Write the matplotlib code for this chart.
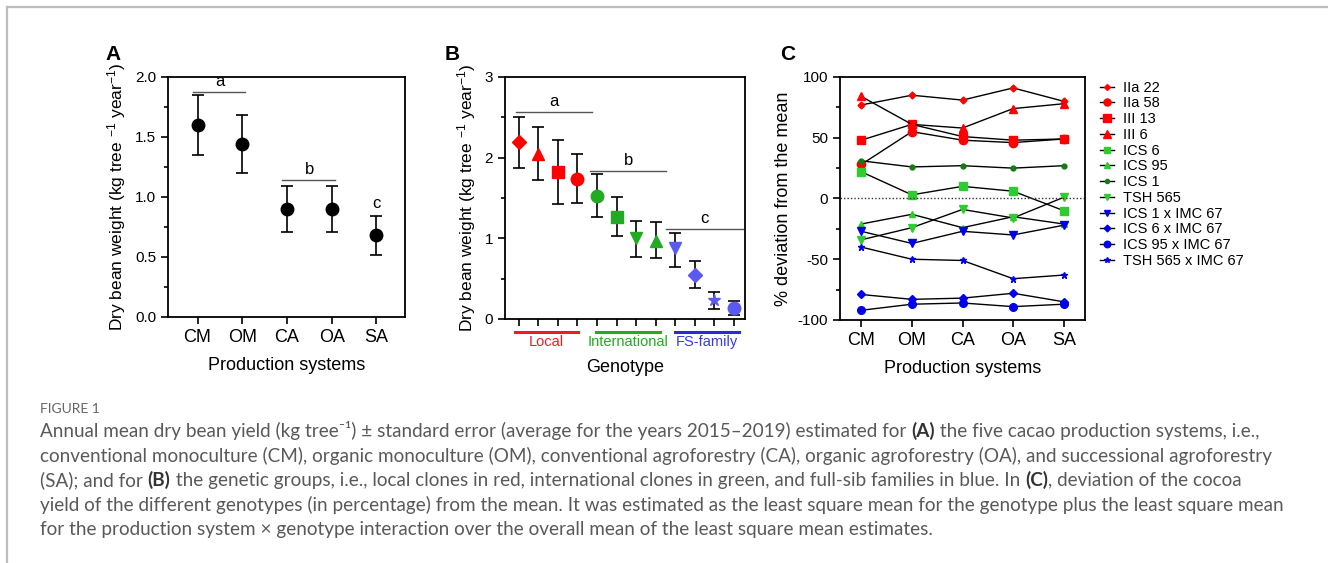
import matplotlib
matplotlib.use("Agg")
import matplotlib.pyplot as plt
import numpy as np
from matplotlib.lines import Line2D
import matplotlib.transforms as mtransforms

plt.rcParams['font.family'] = ['Liberation Sans', 'DejaVu Sans']
plt.rcParams['mathtext.fontset'] = 'custom'
plt.rcParams['mathtext.rm'] = 'Liberation Sans'
plt.rcParams['mathtext.it'] = 'Liberation Sans'
plt.rcParams['axes.unicode_minus'] = False

# Panel A data
systems = ['CM', 'OM', 'CA', 'OA', 'SA']
sys_mean = [1.60, 1.44, 0.90, 0.90, 0.68]
sys_low = [1.35, 1.20, 0.71, 0.71, 0.52]
sys_high = [1.85, 1.68, 1.09, 1.09, 0.84]

# Panel B data
genotypes = ['IIa 22', 'III 6', 'III 13', 'IIa 58', 'ICS 1', 'ICS 6', 'TSH 565', 'ICS 95',
             'ICS 1 x IMC 67', 'ICS 6 x IMC 67', 'TSH 565 x IMC 67', 'ICS 95 x IMC 67']
geno_mean = [2.19, 2.04, 1.82, 1.74, 1.53, 1.27, 1.00, 0.97, 0.88, 0.55, 0.23, 0.14]
geno_low = [1.87, 1.72, 1.42, 1.44, 1.26, 1.03, 0.77, 0.76, 0.65, 0.38, 0.12, 0.05]
geno_high = [2.51, 2.38, 2.22, 2.04, 1.80, 1.51, 1.21, 1.20, 1.07, 0.72, 0.33, 0.22]
groups = ['Local', 'International', 'FS-family']

# Panel C data (% deviation from the mean, per production system)
dev = {
    'IIa 22': [77, 85, 81, 91, 80],
    'IIa 58': [28, 55, 48, 46, 49],
    'III 13': [48, 61, 51, 48, 49],
    'III 6': [84, 61, 58, 74, 78],
    'ICS 6': [22, 3, 10, 6, -10],
    'ICS 95': [-21, -13, -24, -15, -21],
    'ICS 1': [31, 26, 27, 25, 27],
    'TSH 565': [-34, -24, -9, -16, 1],
    'ICS 1 x IMC 67': [-27, -37, -27, -30, -22],
    'ICS 6 x IMC 67': [-79, -83, -82, -78, -85],
    'ICS 95 x IMC 67': [-92, -87, -86, -89, -87],
    'TSH 565 x IMC 67': [-40, -50, -51, -66, -63],
}

RED = '#ff0000'
GREEN_B = '#22aa22'
BLUE_B = '#5a5af0'
GREEN_C = '#2ecc2e'
DKGREEN = '#147a14'
BLUE_C = '#0000ee'

b_style = {
    'IIa 22': ('D', RED, 7), 'III 6': ('^', RED, 8), 'III 13': ('s', RED, 8), 'IIa 58': ('o', RED, 9),
    'ICS 1': ('o', GREEN_B, 9), 'ICS 6': ('s', GREEN_B, 8), 'TSH 565': ('v', GREEN_B, 8), 'ICS 95': ('^', GREEN_B, 8),
    'ICS 1 x IMC 67': ('v', BLUE_B, 8), 'ICS 6 x IMC 67': ('D', BLUE_B, 7),
    'TSH 565 x IMC 67': ('*', BLUE_B, 9), 'ICS 95 x IMC 67': ('o', BLUE_B, 9),
}
c_style = {
    'IIa 22': ('D', RED, 3.5), 'IIa 58': ('o', RED, 6), 'III 13': ('s', RED, 6), 'III 6': ('^', RED, 6),
    'ICS 6': ('s', GREEN_C, 5.5), 'ICS 95': ('^', GREEN_C, 5), 'ICS 1': ('o', DKGREEN, 3.5),
    'TSH 565': ('v', GREEN_C, 5.5), 'ICS 1 x IMC 67': ('v', BLUE_C, 5.5),
    'ICS 6 x IMC 67': ('D', BLUE_C, 4), 'ICS 95 x IMC 67': ('o', BLUE_C, 5.5),
    'TSH 565 x IMC 67': ('*', BLUE_C, 5),
}

fig = plt.figure(figsize=(13.28, 5.63), dpi=100)

# outer frame lines (top and left)
fig.add_artist(Line2D([7 / 1328, 1], [1 - 7 / 563, 1 - 7 / 563], color='#bdbdbd', lw=1.6, transform=fig.transFigure))
fig.add_artist(Line2D([7 / 1328, 7 / 1328], [0, 1 - 7 / 563], color='#bdbdbd', lw=1.6, transform=fig.transFigure))

ylab = r'Dry bean weight (kg tree $^{-1}$ year$^{-1}$)'


def style_axes(ax):
    for s in ax.spines.values():
        s.set_linewidth(1.3)
    ax.tick_params(direction='out', width=1.2, length=5)
    ax.tick_params(which='minor', direction='out', width=1.2, length=3)
    ax.tick_params(axis='y', labelsize=11)
    ax.tick_params(axis='x', labelsize=13)


# ---------------- Panel A ----------------
axA = fig.add_axes([168 / 1328, 1 - 317 / 563, 237 / 1328, 240 / 563])
xa = np.arange(len(systems))
ya = np.array(sys_mean)
axA.errorbar(xa, ya, yerr=[ya - np.array(sys_low), np.array(sys_high) - ya], fmt='o', color='black',
             ms=9, capsize=4, elinewidth=1.2, capthick=1.2)
axA.set_xlim(-0.66, 4.64)
axA.set_ylim(0, 2.0)
axA.set_xticks(xa)
axA.set_xticklabels(systems)
axA.set_yticks([0, 0.5, 1.0, 1.5, 2.0])
axA.set_yticklabels(['0.0', '0.5', '1.0', '1.5', '2.0'])
axA.set_yticks(np.arange(0.25, 2.0, 0.5), minor=True)
axA.set_ylabel(ylab, fontsize=12.5, labelpad=5)
axA.set_xlabel('Production systems', fontsize=13, labelpad=8)
style_axes(axA)
axA.plot([-0.1, 1.07], [1.875, 1.875], color='#555555', lw=1)
axA.text(0.5, 1.90, 'a', ha='center', va='bottom', fontsize=12)
axA.plot([1.88, 3.07], [1.14, 1.14], color='#555555', lw=1)
axA.text(2.5, 1.165, 'b', ha='center', va='bottom', fontsize=12)
axA.text(4, 0.88, 'c', ha='center', va='bottom', fontsize=12)

# ---------------- Panel B ----------------
axB = fig.add_axes([505 / 1328, 1 - 319 / 563, 240 / 1328, 242 / 563])
for i, g in enumerate(genotypes):
    m, c, s = b_style[g]
    axB.errorbar([i], [geno_mean[i]], yerr=[[geno_mean[i] - geno_low[i]], [geno_high[i] - geno_mean[i]]],
                 fmt='none', ecolor='black', capsize=4, elinewidth=1.2, capthick=1.2)
    axB.plot([i], [geno_mean[i]], marker=m, color=c, ms=s, ls='none', zorder=3)
axB.set_xlim(-0.7, 11.56)
axB.set_ylim(0, 3)
axB.set_xticks(range(len(genotypes)))
axB.set_xticklabels([])
axB.set_yticks([0, 1, 2, 3])
axB.set_yticks([0.5, 1.5, 2.5], minor=True)
axB.set_ylabel(ylab, fontsize=12.5, labelpad=5)
style_axes(axB)
axB.plot([-0.14, 3.76], [2.57, 2.57], color='#555555', lw=1)
axB.text(1.8, 2.60, 'a', ha='center', va='bottom', fontsize=12)
axB.plot([3.66, 7.53], [1.84, 1.84], color='#555555', lw=1)
axB.text(5.6, 1.87, 'b', ha='center', va='bottom', fontsize=12)
axB.plot([7.53, 11.45], [1.12, 1.12], color='#555555', lw=1)
axB.text(9.5, 1.15, 'c', ha='center', va='bottom', fontsize=12)
trB = mtransforms.blended_transform_factory(axB.transData, axB.transAxes)
for name, col, tcol, x0, x1 in [(groups[0], '#ee1c24', '#ee1c24', -0.19, 3.05),
                                (groups[1], '#1fae1f', '#1fae1f', 3.94, 7.22),
                                (groups[2], '#2b2bd6', '#3a3ae0', 7.96, 11.23)]:
    axB.plot([x0, x1], [-0.054, -0.054], color=col, lw=2.2, transform=trB, clip_on=False)
    axB.text((x0 + x1) / 2, -0.097, name, color=tcol, ha='center', va='center', fontsize=10.5,
             transform=trB)
axB.text(0.5, -0.2, 'Genotype', ha='center', va='center', fontsize=13, transform=axB.transAxes)

# ---------------- Panel C ----------------
axC = fig.add_axes([840 / 1328, 1 - 320 / 563, 245 / 1328, 243 / 563])
xc = np.arange(len(systems))
for g, vals in dev.items():
    m, c, s = c_style[g]
    axC.plot(xc, vals, color='black', lw=1, marker=m, mfc=c, mec=c, ms=s, label=g)
axC.axhline(0, color='#333333', lw=1, ls=(0, (1, 1.5)))
axC.set_xlim(-0.42, 4.42)
axC.set_ylim(-100, 100)
axC.set_xticks(xc)
axC.set_xticklabels(systems)
axC.set_yticks([-100, -50, 0, 50, 100])
axC.set_yticks([-75, -25, 25, 75], minor=True)
axC.set_ylabel('% deviation from the mean', fontsize=13)
axC.set_xlabel('Production systems', fontsize=13, labelpad=8)
style_axes(axC)
axC.legend(loc='upper left', bbox_to_anchor=(1.06, 0.985), frameon=False, fontsize=10.5,
           handlelength=1.0, handletextpad=0.6, labelspacing=0.12, borderpad=0, borderaxespad=0,
           markerscale=0.85)

# panel letters
for lab, x in [('A', 113), ('B', 452), ('C', 788)]:
    fig.text(x / 1328, 1 - 54 / 563, lab, fontsize=15, fontweight='bold', ha='center', va='center')

# ---------------- caption ----------------
CAP = ['Lato', 'DejaVu Sans']
cap_col = '#595959'
fig.text(40 / 1328, 1 - 409 / 563, 'FIGURE 1', family=CAP, fontsize=10, color='#666666', va='center')

caption = [
    [('Annual mean dry bean yield (kg tree\u207b\u00b9) \u00b1 standard error (average for the years 2015\u20132019) estimated for ', False),
     ('(A)', True), (' the five cacao production systems, i.e.,', False)],
    [('conventional monoculture (CM), organic monoculture (OM), conventional agroforestry (CA), organic agroforestry (OA), and successional agroforestry', False)],
    [('(SA); and for ', False), ('(B)', True),
     (' the genetic groups, i.e., local clones in red, international clones in green, and full-sib families in blue. In ', False),
     ('(C)', True), (', deviation of the cocoa', False)],
    [('yield of the different genotypes (in percentage) from the mean. It was estimated as the least square mean for the genotype plus the least square mean', False)],
    [('for the production system \u00d7 genotype interaction over the overall mean of the least square mean estimates.', False)],
]
renderer = fig.canvas.get_renderer()
y0 = 431
for k, line in enumerate(caption):
    xpx = 40
    ypx = y0 + k * 24.6
    for txt, bold in line:
        t = fig.text(xpx / 1328, 1 - ypx / 563, txt, family=CAP, fontsize=13.6, color='#333333' if bold else cap_col,
                     fontweight='bold' if bold else 'normal', va='center')
        bb = t.get_window_extent(renderer=renderer)
        xpx += bb.width

fig.savefig('out.png', dpi=100)
